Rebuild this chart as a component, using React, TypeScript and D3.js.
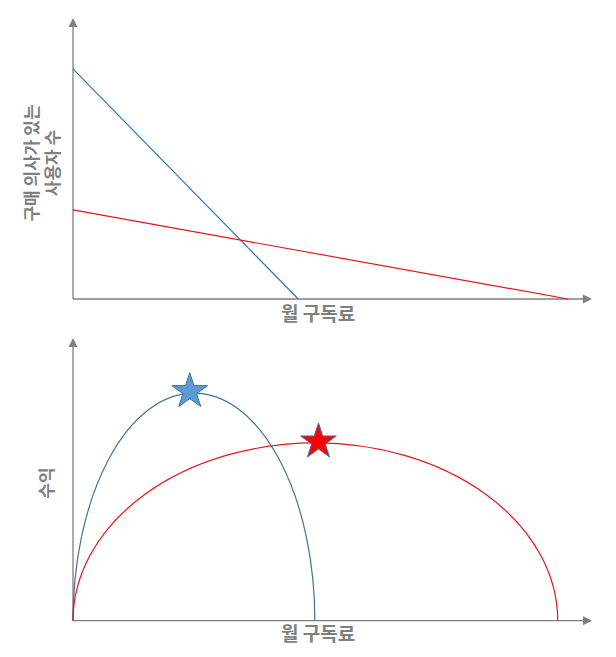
import React from "react";
import * as d3 from "d3";

// ---- data (price as % of axis, users/revenue as % of axis) ----
const axisMax = [0, 100];
const blueDemandPrice = [0, 43.4];
const blueDemandUsers = [81.9, 0];
const redDemandPrice = [0, 95.4];
const redDemandUsers = [31.7, 0];

// revenue curves: start price, end price, peak revenue
const blueRevenue = [0, 46.6, 80.5];
const redRevenue = [0, 93.4, 62.9];
// optimum stars: [price, revenue]
const blueStar = [22.5, 81.1];
const redStar = [47.3, 63.3];

const xLabel = "월 구독료";
const topYLabel = ["구매 의사가 있는", "사용자 수"];
const bottomYLabel = "수익";

const W = 616;
const H = 657;
const AX = "#7f7f7f";
const FONT = "'Noto Sans CJK KR', 'Noto Sans', sans-serif";
const BLUE_LINE = "#2e75b6";
const BLUE_CURVE = "#41719c";
const RED = "#e8141a";

const x = d3.scaleLinear().domain(axisMax).range([73, 592]);
const yTop = d3.scaleLinear().domain(axisMax).range([299, 18]);
const yBot = d3.scaleLinear().domain(axisMax).range([620.7, 338]);

function Axes({ y0, yTopPx }: { y0: number; yTopPx: number }) {
  const x0 = x(0);
  const x1 = x(100);
  return (
    <g>
      <line x1={x0} y1={y0} x2={x1 - 8} y2={y0} stroke={AX} strokeWidth={1.3} />
      <line x1={x0} y1={y0} x2={x0} y2={yTopPx + 8} stroke={AX} strokeWidth={1.3} />
      <path d={`M${x1},${y0} L${x1 - 9},${y0 - 4.5} L${x1 - 9},${y0 + 4.5} Z`} fill={AX} />
      <path d={`M${x0},${yTopPx} L${x0 - 4.5},${yTopPx + 9} L${x0 + 4.5},${yTopPx + 9} Z`} fill={AX} />
    </g>
  );
}

function arcPath(r: number[]) {
  const xs = x(r[0]);
  const xe = x(r[1]);
  const y0 = yBot(0);
  const rx = (xe - xs) / 2;
  const ry = y0 - yBot(r[2]);
  return `M${xs},${y0} A${rx},${ry} 0 0 1 ${xe},${y0}`;
}

const starPath = d3.symbol(d3.symbolStar, 395)() as string;

export default function App() {
  const topLine = (px: number[], py: number[]) =>
    d3.line()(px.map((p, i) => [x(p), yTop(py[i])] as [number, number])) as string;

  return (
    <svg
      width={W}
      height={H}
      style={{ position: "absolute", left: 0, top: 0, background: "#fff" }}
      fontFamily={FONT}
    >
      <rect width={W} height={H} fill="#fff" />
      {/* top chart */}
      <Axes y0={yTop(0)} yTopPx={yTop(100)} />
      <path d={topLine(blueDemandPrice, blueDemandUsers)} stroke={BLUE_LINE} strokeWidth={1.2} fill="none" />
      <path d={topLine(redDemandPrice, redDemandUsers)} stroke={RED} strokeWidth={1.2} fill="none" />
      <text x={318} y={321} textAnchor="middle" fontSize={19} fontWeight="bold" fill={AX}>
        {xLabel}
      </text>
      <text transform="translate(32,163) rotate(-90)" textAnchor="middle" fontSize={17} fontWeight="bold" fill={AX}>
        <tspan x={0} y={6}>{topYLabel[0]}</tspan>
        <tspan x={0} y={27}>{topYLabel[1]}</tspan>
      </text>

      {/* bottom chart */}
      <Axes y0={yBot(0)} yTopPx={yBot(100)} />
      <path d={arcPath(blueRevenue)} stroke={BLUE_CURVE} strokeWidth={1.2} fill="none" />
      <path d={arcPath(redRevenue)} stroke={RED} strokeWidth={1.2} fill="none" />
      <path
        d={starPath}
        transform={`translate(${x(blueStar[0])},${yBot(blueStar[1])})`}
        fill="#5b9bd5"
        stroke="#41719c"
        strokeWidth={1}
      />
      <path
        d={starPath}
        transform={`translate(${x(redStar[0])},${yBot(redStar[1])})`}
        fill="#ff0000"
        stroke="#41719c"
        strokeWidth={1}
      />
      <text x={318} y={641} textAnchor="middle" fontSize={19} fontWeight="bold" fill={AX}>
        {xLabel}
      </text>
      <text transform="translate(47,483) rotate(-90)" textAnchor="middle" fontSize={17} fontWeight="bold" fill={AX} dy="0.35em">
        {bottomYLabel}
      </text>
    </svg>
  );
}
